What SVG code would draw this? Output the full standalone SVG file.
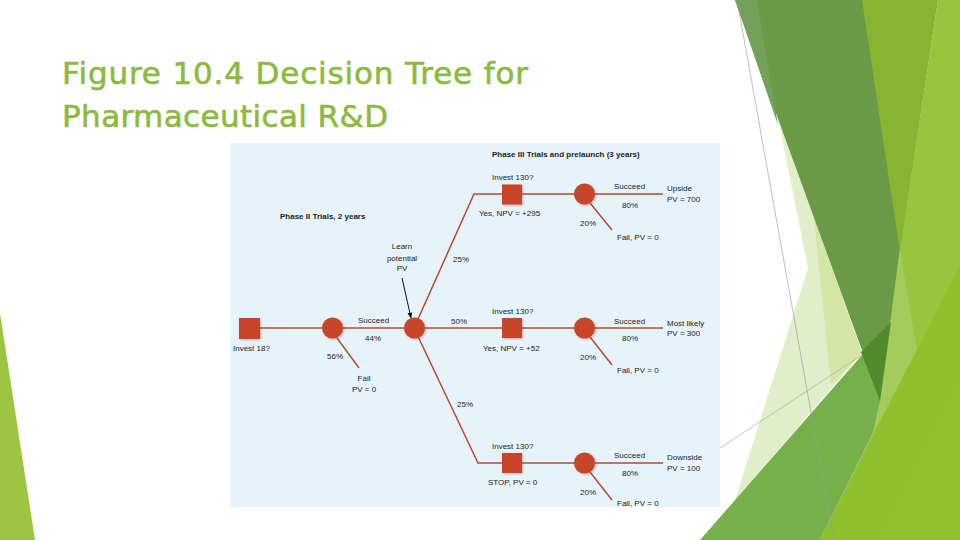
<svg xmlns="http://www.w3.org/2000/svg" width="960" height="540" viewBox="0 0 960 540">
<defs>
<style>
.t{font-family:"Liberation Sans",Arial,sans-serif;font-size:8px;fill:#222222}
.b{font-weight:bold}
.m{text-anchor:middle}
.ln{stroke:#b84a33;stroke-width:1.5;fill:none}
.nd{fill:#c8452b;filter:url(#sh)}
.title{font-family:"DejaVu Sans","Open Sans",sans-serif;font-size:31px;fill:#8cba3e;stroke:#8cba3e;stroke-width:0.6}
</style>
<filter id="sh" x="-50%" y="-50%" width="200%" height="200%">
<feDropShadow dx="1" dy="1" stdDeviation="1.2" flood-color="#7a2a1a" flood-opacity="0.35"/>
</filter>
<marker id="ah" viewBox="0 0 10 10" refX="9" refY="5" markerWidth="6" markerHeight="6" orient="auto">
<path d="M0,1 L10,5 L0,9 z" fill="#111"/>
</marker>
</defs>
<rect width="960" height="540" fill="#ffffff"/>
<!-- background decoration -->
<g id="decor">
<polygon points="0,313 35,540 0,540" fill="#9dc443"/>
<polygon points="820,540 873,433 900,250 938,0 960,0 960,540" fill="#98c53e"/>
<polygon points="778,118 808,268 735,500 862,353" fill="#e2edca"/>
<polygon points="814,218 831,385 862,353" fill="#d4e5a6"/>
<line x1="720" y1="448" x2="862" y2="355" stroke="#a8b0a0" stroke-width="0.7"/>
<polygon points="735,0 933,0 880,400" fill="#6a9a46"/>
<polygon points="735,0 757,0 778,125" fill="#73a15a"/>
<polygon points="862,0 938,0 900,252" fill="#87b532"/>
<polygon points="900,250 917,350 873,433 880,400" fill="#a3cc5c"/>
<polygon points="700,540 890,323 880,400 873,433 820,540" fill="#76b04a"/>
<polygon points="861,352 891,322 880,401" fill="#4f8b2b"/>
<polygon points="820,540 960,266 960,540" fill="#8fbf2b"/>
<polygon points="880,540 960,380 960,540" fill="#93c232" opacity="0.6"/>
<line x1="737" y1="0" x2="834" y2="540" stroke="#9a9a9a" stroke-width="0.8" opacity="0.8"/>
</g>
<g id="title">
<text class="title" x="62" y="84" textLength="466" lengthAdjust="spacing">Figure 10.4 Decision Tree for</text>
<text class="title" x="62" y="127" textLength="326" lengthAdjust="spacing">Pharmaceutical R&amp;D</text>
</g>
<rect x="230" y="143" width="490" height="364" fill="#e6f3fa"/>
<g id="connectors">
<line class="ln" x1="249" y1="328" x2="663" y2="328"/>
<line class="ln" x1="337" y1="338" x2="359" y2="368"/>
<polyline class="ln" points="414,328 474,194 663,194"/>
<polyline class="ln" points="414,328 478,463 663,463"/>
<line class="ln" x1="590" y1="203" x2="612" y2="230"/>
<line class="ln" x1="590" y1="337" x2="612" y2="365"/>
<line class="ln" x1="590" y1="472" x2="612" y2="500"/>
<line x1="402" y1="278" x2="411" y2="318" stroke="#111" stroke-width="1" marker-end="url(#ah)"/>
</g>
<g id="n-invest18"><rect class="nd" x="239" y="318" width="21" height="21"/><text class="t" x="233" y="351">Invest 18?</text></g>
<g id="n-phase2"><circle class="nd" cx="332.5" cy="328" r="10.5"/>
<text class="t" x="358" y="323">Succeed</text><text class="t" x="365" y="341">44%</text>
<text class="t" x="327" y="359">56%</text>
<text class="t m" x="364" y="381">Fail</text><text class="t m" x="364" y="392">PV = 0</text></g>
<g id="n-learn"><circle class="nd" cx="414.5" cy="328" r="10.5"/>
<text class="t m" x="402" y="249">Learn</text><text class="t m" x="402" y="261">potential</text><text class="t m" x="402" y="271">PV</text>
<text class="t" x="453" y="262">25%</text><text class="t" x="451" y="324">50%</text><text class="t" x="457" y="407">25%</text></g>
<g id="labels"><text class="t b" x="492" y="157">Phase III Trials and prelaunch (3 years)</text>
<text class="t b" x="280" y="219">Phase II Trials, 2 years</text></g>
<g id="n-top-dec"><rect class="nd" x="502" y="184.5" width="20" height="20"/>
<text class="t" x="492" y="180">Invest 130?</text><text class="t" x="479" y="216">Yes, NPV = +295</text></g>
<g id="n-top-chance"><circle class="nd" cx="584.5" cy="194" r="10.5"/>
<text class="t" x="614" y="189">Succeed</text><text class="t" x="622" y="208">80%</text>
<text class="t" x="580" y="226">20%</text><text class="t" x="617" y="240">Fail, PV = 0</text>
<text class="t" x="667" y="191">Upside</text><text class="t" x="667" y="202">PV = 700</text></g>
<g id="n-mid-dec"><rect class="nd" x="502" y="318" width="20" height="20"/>
<text class="t" x="492" y="314">Invest 130?</text><text class="t" x="483" y="351">Yes, NPV = +52</text></g>
<g id="n-mid-chance"><circle class="nd" cx="584.5" cy="328" r="10.5"/>
<text class="t" x="614" y="324">Succeed</text><text class="t" x="622" y="341">80%</text>
<text class="t" x="580" y="360">20%</text><text class="t" x="617" y="373">Fail, PV = 0</text>
<text class="t" x="667" y="326">Most likely</text><text class="t" x="667" y="336">PV = 300</text></g>
<g id="n-bot-dec"><rect class="nd" x="502" y="453" width="20" height="20"/>
<text class="t" x="492" y="449">Invest 130?</text><text class="t" x="488" y="485">STOP, PV = 0</text></g>
<g id="n-bot-chance"><circle class="nd" cx="584.5" cy="463" r="10.5"/>
<text class="t" x="614" y="458">Succeed</text><text class="t" x="622" y="476">80%</text>
<text class="t" x="580" y="495">20%</text><text class="t" x="617" y="506">Fail, PV = 0</text>
<text class="t" x="667" y="460">Downside</text><text class="t" x="667" y="471">PV = 100</text></g>
</svg>
